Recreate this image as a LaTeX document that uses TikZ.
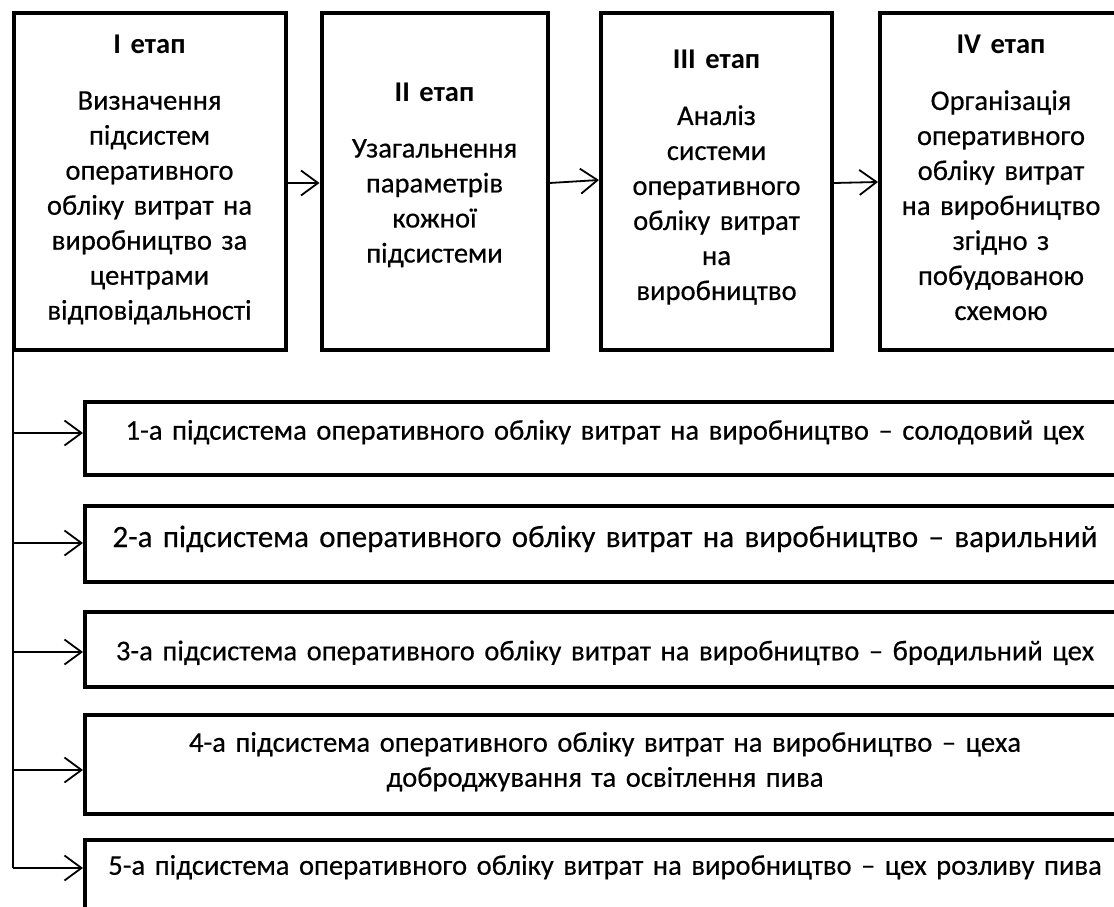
\documentclass[tikz,border=0pt]{standalone}
\usepackage{fontspec}
\setmainfont{Carlito}[UprightFeatures={FakeBold=0.4}]
\usetikzlibrary{arrows.meta}
\begin{document}
\begin{tikzpicture}[x=1pt,y=-1pt,
  box/.style={draw=black, line width=4pt, rectangle, inner sep=0pt, align=center},
  stagebox/.style={box, font=\fontsize{28.6}{35}\selectfont, text height=0pt, minimum height=336pt},
  subbox/.style={box, font=\fontsize{28.6}{35}\selectfont, minimum width=1040pt, text width=1030pt},
  conn/.style={line width=1.8pt},
  arr/.style={conn, -{Straight Barb[length=17pt,width=25pt]}},
]
\clip (0,0) rectangle (1114,907);
\fill[white] (0,0) rectangle (1114,907);

% top row: stages
\node[stagebox, minimum width=272pt, text width=262pt, text depth=255.6pt] (s1) at (149.5,181.5)
  {\textbf{I етап}\\[21pt]Визначення\\підсистем\\оперативного\\обліку витрат на\\виробництво за\\центрами\\відповідальності};
\node[stagebox, minimum width=226pt, text width=216pt, text depth=160pt] (s2) at (434.5,181.5)
  {\textbf{II етап}\\[21pt]Узагальнення\\параметрів\\кожної\\підсистеми};
\node[stagebox, minimum width=231pt, text width=221pt, text depth=225pt] (s3) at (716.5,181.5)
  {\textbf{III етап}\\[21pt]Аналіз\\системи\\оперативного\\обліку витрат\\на\\виробництво};
\node[stagebox, minimum width=242pt, text width=232pt, text depth=255pt] (s4) at (1001,181.5)
  {\textbf{IV етап}\\[21pt]Організація\\оперативного\\обліку витрат\\на виробництво\\згідно з\\побудованою\\схемою};

% lower boxes: subsystems
\node[subbox, minimum height=73.5pt, text height=2.9pt, text depth=0pt] (b1) at (605,438.25)
  {1-а підсистема оперативного обліку витрат на виробництво – солодовий цех};
\node[subbox, minimum height=76.5pt, text height=6.5pt, text depth=0pt, font=\fontsize{31}{38}\selectfont] (b2) at (605,543.75)
  {2-а підсистема оперативного обліку витрат на виробництво – варильний};
\node[subbox, minimum height=75.5pt, text height=22pt, text depth=0pt] (b3) at (605,649.25)
  {3-а підсистема оперативного обліку витрат на виробництво – бродильний цех};
\node[subbox, minimum height=99.5pt, text height=0pt, text depth=25pt] (b4) at (605,764.25)
  {4-а підсистема оперативного обліку витрат на виробництво – цеха\\доброджування та освітлення пива};
\node[subbox, minimum height=80.5pt, text height=0pt, text depth=10pt] (b5) at (605,879.75)
  {5-а підсистема оперативного обліку витрат на виробництво – цех розливу пива};

% arrows between stages
\draw[arr] ([yshift=-1.5pt]s1.east) -- ([yshift=-1.5pt]s2.west);
\draw[arr] ([yshift=-1.5pt]s2.east) -- ([yshift=1.5pt]s3.west);
\draw[arr] ([yshift=-1.5pt]s3.east) -- ([yshift=-0.5pt]s4.west);

% spine and branches
\coordinate (top) at ([xshift=1.5pt]s1.south west);
\coordinate (a1) at ([yshift=5.25pt]b1.west);
\coordinate (a2) at ([yshift=0.75pt]b2.west);
\coordinate (a3) at ([yshift=-2.75pt]b3.west);
\coordinate (a4) at ([yshift=-5.75pt]b4.west);
\coordinate (a5) at ([yshift=11.75pt]b5.west);
\draw[conn] (top) -- (top |- a5);
\foreach \n in {1,...,5} \draw[arr] (top |- a\n) -- (a\n);
\end{tikzpicture}
\end{document}
